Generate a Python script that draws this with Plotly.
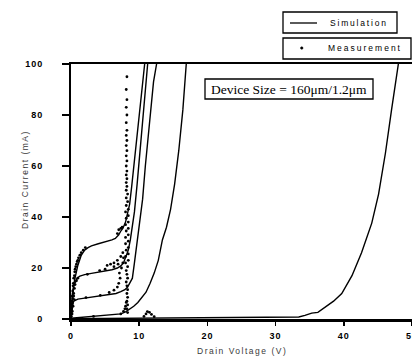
import plotly.graph_objects as go

# ---------------- data ----------------
# Simulation curves (Drain Voltage V, Drain Current mA)
sim1_v = [0, 0.1, 0.25, 0.5, 0.75, 1, 1.5, 2, 2.5, 3, 4, 5, 6, 6.5, 7, 7.3, 7.6, 8.0, 8.3, 8.6, 8.9, 9.3, 9.7, 10.0, 10.4, 10.8]
sim1_i = [0, 5, 10, 15, 18.5, 21, 25, 27, 28, 28.7, 29.5, 30.2, 31, 31.6, 33, 34.5, 35.5, 38, 41, 45, 52, 62, 73, 82, 91, 100]

sim2_v = [0, 0.1, 0.2, 0.4, 0.6, 0.9, 1.3, 2, 3, 4, 5, 6, 6.8, 7.3, 7.7, 8.1, 8.4, 8.7, 9.0, 9.3, 9.7, 10.1, 10.5, 10.9, 11.24]
sim2_i = [0, 5, 10, 13, 14.5, 16, 16.8, 17.4, 17.9, 18.3, 18.7, 19.3, 20, 20.8, 22, 24.5, 27, 31, 36, 42, 53, 65, 78, 90, 100]

sim3_v = [0, 0.1, 0.2, 0.4, 0.7, 1, 1.5, 2.4, 3.5, 4.5, 5.8, 6.6, 7.3, 7.9, 8.3, 8.7, 9.0, 9.3, 9.7, 10.1, 10.5, 10.9, 11.3, 11.7, 12.1, 12.55]
sim3_i = [0, 3, 5.5, 7, 7.5, 7.8, 8, 8.3, 8.7, 9.1, 9.5, 10, 10.7, 11.5, 12.5, 14.5, 16, 22, 30, 38, 47, 60, 72, 84, 93, 100]

sim4_v = [0, 1, 2, 3.3, 5, 6.5, 7.3, 8, 8.6, 9.2, 9.8, 10.4, 11, 11.6, 12.2, 12.8, 13.4, 14, 14.6, 15.2, 15.8, 16.4, 16.9]
sim4_i = [0.3, 0.5, 0.7, 0.9, 1.3, 1.7, 2.0, 2.8, 3.8, 5.0, 6.5, 8.5, 10.5, 14, 18, 23, 31, 36, 43, 53, 66, 82, 100]

sim5_v = [0, 5, 10, 15, 20, 25, 30, 33.4, 34.3, 35.3, 36.2, 37.4, 38.5, 39.7, 41.2, 42.6, 44.1, 45.1, 46.1, 47.0, 48.0]
sim5_i = [0.1, 0.2, 0.25, 0.3, 0.35, 0.45, 0.6, 0.8, 1.4, 2.3, 2.6, 4.8, 7, 10, 17, 26, 37.6, 49, 65, 82, 100]

# Measurement points
rise_v = [0.05, 0.1, 0.1, 0.15, 0.2, 0.25, 0.3, 0.35, 0.4, 0.5, 0.55, 0.6, 0.7, 0.8, 0.9, 1.0, 1.1, 1.3, 1.5, 1.8, 2.1]
rise_i = [1, 3, 5, 7, 9, 11, 13, 14, 16, 17, 18.5, 19.5, 20.5, 21.5, 22.5, 23, 24, 25, 26, 27, 28]

clus_v = [0.1, 0.2, 0.3, 0.4, 0.5, 0.6, 0.8, 1.0, 0.15, 0.3, 0.5, 0.2, 0.4]
clus_i = [4, 6, 8, 10, 12, 13.5, 15, 16, 2, 5, 7.5, 3, 9]

plat_v = [2.4, 4.2, 5.0, 6.3, 6.9, 2.2, 4.3, 5.6, 6.3, 6.8, 3.3, 6.8, 7.0, 7.3, 7.5]
plat_i = [17.5, 19, 19.5, 20.5, 21.5, 8.4, 9.3, 10.4, 11.3, 12.5, 1.0, 33.5, 35, 35.5, 36]

trail_v = [7.0, 7.2, 7.1, 7.4, 7.6, 7.7, 5.3, 5.8, 6.3, 6.8, 7.3, 7.6, 7.3, 7.7, 7.9, 8.0, 8.1]
trail_i = [14, 16, 18, 20, 22, 24, 21, 21.5, 22, 23, 24.5, 26, 2.0, 3, 4, 5, 6.5]

col_v = [8.3, 8.2, 8.3, 8.2, 8.3, 8.2, 8.3, 8.2, 8.1, 8.3,
         8.2, 8.1, 8.3, 8.0, 8.4, 8.0, 8.4, 8.1, 8.4, 8.0,
         8.4, 8.0, 8.4, 8.1, 8.4, 8.0, 8.4, 8.1, 8.4, 8.0,
         8.4, 8.1, 8.3, 8.1, 8.3, 8.1, 8.2, 8.1, 8.2, 8.1,
         8.2, 8.1, 8.2, 8.1, 8.2, 8.1, 8.2, 8.1, 8.2, 8.1,
         8.2, 8.1, 8.2, 8.1, 8.2]
col_i = [2.5, 4, 5.5, 7, 8.5, 10, 11.5, 13, 14.5, 16,
         17.5, 19, 20.5, 22, 23, 24.5, 25.5, 27, 28, 29.5,
         30.5, 32, 33, 34.5, 35.5, 37, 38, 39.5, 40.5, 42,
         43, 44.5, 46, 47.5, 49, 50.5, 52, 53.5, 55, 56.5,
         58, 60, 62, 64, 66, 68, 70, 72, 74, 77,
         80, 83, 86, 90, 95]

bump_v = [10.7, 11.0, 11.2, 11.5, 11.8, 12.2]
bump_i = [1.0, 2.0, 2.9, 2.6, 1.8, 0.9]

x_ticks = [0, 10, 20, 30, 40, 50]
y_ticks = [0, 20, 40, 60, 80, 100]

x_title = "Drain Voltage (V)"
y_title = "Drain Current (mA)"
legend_labels = ["Simulation", "Measurement"]
device_label = "Device Size = 160μm/1.2μm"

# ---------------- figure ----------------
W, H = 412, 356
L, R, T, B = 71, 0, 64, 37
pw, ph = W - L - R, H - T - B


def px(x):
    return (x - L) / pw


def py(y):
    return (H - B - y) / ph


def spaced(s, sp):
    return f'<span style="letter-spacing:{sp}px">{s}</span>'


fig = go.Figure()
for v, i in [(sim1_v, sim1_i), (sim2_v, sim2_i), (sim3_v, sim3_i),
             (sim4_v, sim4_i), (sim5_v, sim5_i)]:
    fig.add_trace(go.Scatter(x=v, y=i, mode="lines",
                             line=dict(color="black", width=1.4),
                             showlegend=False, hoverinfo="skip"))

meas_v = rise_v + clus_v + plat_v + trail_v + col_v + bump_v
meas_i = rise_i + clus_i + plat_i + trail_i + col_i + bump_i
fig.add_trace(go.Scatter(x=meas_v, y=meas_i, mode="markers",
                         marker=dict(color="black", size=2.8),
                         showlegend=False, hoverinfo="skip"))

tickfont = dict(family="Liberation Sans, Arial", size=9, color="black", weight="bold")

fig.update_layout(
    template="none",
    width=W, height=H,
    margin=dict(l=L, r=R, t=T, b=B, pad=0, autoexpand=False),
    paper_bgcolor="white", plot_bgcolor="white",
    xaxis=dict(range=[0, 50], showline=True, linecolor="black", linewidth=2.5,
               mirror=True, ticks="outside", ticklen=4, tickwidth=1.5,
               tickcolor="black", automargin=False,
               tickvals=x_ticks, ticktext=[spaced(str(t), 1) for t in x_ticks],
               tickfont=tickfont, showgrid=False, zeroline=False,
               ticklabelstandoff=3, ticklabeloverflow="allow"),
    yaxis=dict(range=[0, 100], showline=True, linecolor="black", linewidth=2,
               ticks="outside", ticklen=7, tickwidth=1.5, tickcolor="black",
               automargin=False,
               tickvals=y_ticks, ticktext=[spaced(str(t), 1) for t in y_ticks],
               tickfont=tickfont, showgrid=False, zeroline=False,
               ticklabelstandoff=17),
    font=dict(family="Liberation Sans, Arial", color="black"),
    hovermode=False,
)

titlefont = dict(family="Liberation Sans, Arial", size=8.5, color="#3a3a3a")
annots = [
    dict(x=px(242), y=py(351), xref="paper", yref="paper",
         text=spaced(x_title, 1.5), showarrow=False, font=titlefont,
         xanchor="center", yanchor="middle"),
    dict(x=px(25), y=py(180), xref="paper", yref="paper",
         text=spaced(y_title, 1.5), showarrow=False, font=titlefont,
         textangle=-90, xanchor="center", yanchor="middle"),
    dict(x=px(328), y=py(23), xref="paper", yref="paper",
         text=spaced(legend_labels[0], 1.8), showarrow=False,
         font=dict(family="Liberation Sans, Arial", size=8.5, color="black"),
         xanchor="left", yanchor="middle"),
    dict(x=px(326), y=py(48), xref="paper", yref="paper",
         text=spaced(legend_labels[1], 2), showarrow=False,
         font=dict(family="Liberation Sans, Arial", size=8.5, color="black"),
         xanchor="left", yanchor="middle"),
    dict(x=px(289), y=py(89), xref="paper", yref="paper",
         text=device_label, showarrow=False,
         font=dict(family="Liberation Serif, Times New Roman", size=13.5, color="black"),
         xanchor="center", yanchor="middle"),
]
fig.update_layout(annotations=annots)

shapes = [
    # Simulation legend box
    dict(type="rect", xref="paper", yref="paper", x0=px(283), x1=px(397),
         y0=py(33), y1=py(12), line=dict(color="black", width=1.3)),
    dict(type="line", xref="paper", yref="paper", x0=px(290), x1=px(317),
         y0=py(23), y1=py(23), line=dict(color="black", width=1.3)),
    # Measurement legend box
    dict(type="rect", xref="paper", yref="paper", x0=px(283), x1=px(411),
         y0=py(59), y1=py(38), line=dict(color="black", width=1.3)),
    dict(type="circle", xref="paper", yref="paper", x0=px(300.5), x1=px(303),
         y0=py(49.3), y1=py(46.8), fillcolor="black", line=dict(color="black", width=0.5)),
    # Device size box
    dict(type="rect", xref="paper", yref="paper", x0=px(205), x1=px(373),
         y0=py(99), y1=py(79), line=dict(color="black", width=1.3),
         fillcolor="white", layer="above"),
]
fig.update_layout(shapes=shapes)

fig.write_html("out.html",
               config={"displayModeBar": False, "staticPlot": True},
               post_script="document.body.style.margin='0';"
                           "document.body.style.padding='0';"
                           "document.body.style.overflow='hidden';")
